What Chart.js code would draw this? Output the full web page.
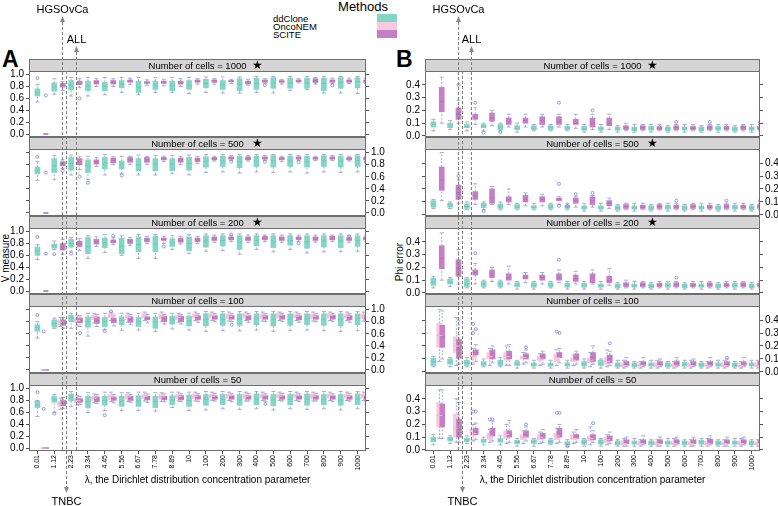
<!DOCTYPE html>
<html>
<head>
<meta charset="utf-8">
<script src="https://cdn.jsdelivr.net/npm/chart.js@4.4.1/dist/chart.umd.min.js"></script>
<style>
  html, body { margin:0; padding:0; background:#fff; }
  #root { position:relative; width:778px; height:506px; overflow:hidden; background:#fff;
          font-family:"Liberation Sans", Arial, Helvetica, sans-serif; color:#000; }
  #root canvas { position:absolute; }
  .t { position:absolute; white-space:nowrap; line-height:1; }
  .c { transform:translate(-50%,-50%); }
  .sw { position:absolute; }
</style>
</head>
<body>
<div id="root">
  <div class="t c" style="left:363px;top:6px;font-size:13px;">Methods</div>
  <div class="t" style="left:2px;top:48px;font-size:23px;font-weight:bold;">A</div>
  <div class="t" style="left:396px;top:48px;font-size:23px;font-weight:bold;">B</div>
  <div class="t" style="left:6px;top:258px;font-size:10px;transform:translate(-50%,-50%) rotate(-90deg);">V measure</div>
  <div class="t" style="left:400px;top:262px;font-size:10px;transform:translate(-50%,-50%) rotate(-90deg);">Phi error</div>
</div>
<script>
// ---------------- DATA ----------------
const lambdas = ['0.01','1.12','2.23','3.34','4.45','5.56','6.67','7.78','8.89','10',
                 '100','200','300','400','500','600','700','800','900','1000'];
const cellCounts = [1000, 500, 200, 100, 50];
const methodNames = ['ddClone', 'OncoNEM', 'SCITE'];
const yTicksA = [0, 0.2, 0.4, 0.6, 0.8, 1.0];
const yTicksB = [0, 0.1, 0.2, 0.3, 0.4];
// estimated positions (in category units) of the real-data lambda values
const annotations = [{name:'HGSOvCa', at:1.45}, {name:'TNBC', at:1.72}, {name:'ALL', at:2.27}];

// each entry: [lower whisker, Q1, median, Q3, upper whisker, (outliers)]
// ---- Panel A : V measure ----
const vm_ddClone_1000 = [
 [0.54,0.64,0.70,0.76,0.83,[0.94]],[0.67,0.72,0.79,0.86,0.93],[0.64,0.74,0.82,0.90,0.95],[0.64,0.73,0.80,0.89,0.95],
 [0.66,0.73,0.80,0.87,0.95],[0.70,0.78,0.84,0.90,0.95],[0.66,0.70,0.79,0.89,0.95],[0.70,0.75,0.82,0.89,0.95],
 [0.70,0.73,0.81,0.89,0.95],[0.68,0.75,0.82,0.90,0.95],[0.70,0.78,0.85,0.92,0.96],[0.69,0.75,0.83,0.90,0.96],
 [0.69,0.73,0.84,0.93,0.96],[0.70,0.75,0.85,0.94,0.97],[0.69,0.77,0.86,0.95,0.97],[0.73,0.77,0.86,0.94,0.97],
 [0.75,0.77,0.86,0.94,0.97],[0.69,0.73,0.85,0.94,0.97],[0.69,0.77,0.87,0.95,0.97],[0.68,0.78,0.88,0.95,0.97]];
const vm_SCITE_1000 = [
 [0,0,0,0,0,[0.65]],[0.73,0.79,0.82,0.85,0.88],[0.78,0.83,0.86,0.89,0.93,[0.60]],[0.80,0.84,0.87,0.90,0.93],
 [0.80,0.84,0.87,0.90,0.93],[0.83,0.87,0.89,0.91,0.94],[0.82,0.85,0.87,0.88,0.91],[0.81,0.85,0.87,0.89,0.92],
 [0.80,0.84,0.86,0.89,0.93],[0.84,0.87,0.89,0.91,0.93],[0.84,0.87,0.89,0.91,0.93],[0.85,0.88,0.89,0.90,0.92],
 [0.82,0.84,0.87,0.89,0.92],[0.85,0.87,0.89,0.91,0.93,[0.82]],[0.84,0.87,0.88,0.90,0.92],[0.86,0.88,0.89,0.91,0.93],
 [0.84,0.87,0.89,0.93,0.95,[0.88]],[0.85,0.87,0.89,0.91,0.94,[0.82]],[0.85,0.87,0.89,0.91,0.94],[0.85,0.87,0.89,0.91,0.94]];
const vm_ddClone_500 = [
 [0.54,0.65,0.70,0.76,0.85,[0.93]],[0.55,0.67,0.78,0.90,0.95],[0.63,0.71,0.82,0.92,0.96],[0.55,0.67,0.78,0.88,0.94,[0.50]],
 [0.63,0.73,0.83,0.92,0.97],[0.65,0.73,0.80,0.86,0.94,[0.62]],[0.63,0.70,0.80,0.90,0.96],[0.63,0.70,0.81,0.90,0.95],
 [0.65,0.70,0.81,0.90,0.95],[0.63,0.71,0.82,0.92,0.96],[0.67,0.76,0.85,0.93,0.97],[0.68,0.77,0.86,0.94,0.97],
 [0.66,0.75,0.85,0.94,0.97],[0.68,0.77,0.86,0.94,0.97],[0.67,0.76,0.86,0.95,0.97],[0.68,0.77,0.86,0.94,0.97],
 [0.66,0.76,0.85,0.94,0.97],[0.68,0.77,0.86,0.95,0.97],[0.67,0.76,0.86,0.94,0.97],[0.68,0.77,0.87,0.95,0.97]];
const vm_SCITE_500 = [
 [0,0,0,0,0,[0.67]],[0.74,0.78,0.82,0.85,0.88,[0.70]],[0.72,0.80,0.85,0.90,0.93,[0.60]],[0.77,0.81,0.85,0.88,0.92],
 [0.80,0.83,0.87,0.91,0.93],[0.80,0.84,0.88,0.92,0.94],[0.80,0.84,0.88,0.92,0.94],[0.85,0.88,0.90,0.92,0.94],
 [0.80,0.84,0.88,0.91,0.94],[0.82,0.85,0.88,0.91,0.94],[0.86,0.88,0.90,0.92,0.94],[0.87,0.89,0.91,0.93,0.95,[0.85]],
 [0.86,0.88,0.90,0.93,0.95],[0.87,0.89,0.91,0.93,0.95,[0.85]],[0.85,0.88,0.90,0.92,0.94],[0.87,0.89,0.91,0.93,0.95,[0.84]],
 [0.87,0.89,0.91,0.92,0.94],[0.87,0.89,0.91,0.93,0.95],[0.86,0.88,0.90,0.92,0.94],[0.86,0.88,0.90,0.92,0.94,[0.84]]];
const vm_ddClone_200 = [
 [0.53,0.60,0.68,0.74,0.78,[0.91]],[0.70,0.72,0.76,0.79,0.84,[0.62]],[0.66,0.74,0.80,0.87,0.90,[0.63]],[0.55,0.63,0.75,0.90,0.93],
 [0.65,0.73,0.81,0.89,0.95],[0.60,0.63,0.76,0.89,0.93],[0.55,0.66,0.78,0.91,0.95],[0.55,0.66,0.79,0.92,0.95],
 [0.70,0.75,0.82,0.88,0.93],[0.63,0.68,0.80,0.91,0.95],[0.67,0.74,0.84,0.93,0.96],[0.68,0.76,0.85,0.93,0.96],
 [0.62,0.70,0.82,0.93,0.96],[0.70,0.76,0.85,0.93,0.96],[0.66,0.73,0.84,0.93,0.96],[0.70,0.77,0.85,0.93,0.96],
 [0.64,0.72,0.83,0.93,0.96],[0.66,0.74,0.84,0.93,0.96],[0.66,0.73,0.84,0.93,0.96],[0.67,0.75,0.85,0.93,0.96]];
const vm_SCITE_200 = [
 [0,0,0,0,0,[0.63]],[0.62,0.69,0.75,0.80,0.87],[0.68,0.75,0.80,0.84,0.88],[0.75,0.79,0.83,0.87,0.91],
 [0.78,0.81,0.84,0.86,0.90,[0.93]],[0.77,0.80,0.84,0.87,0.90],[0.80,0.83,0.86,0.89,0.92],[0.80,0.85,0.87,0.89,0.92,[0.75]],
 [0.79,0.82,0.85,0.89,0.92],[0.80,0.83,0.86,0.89,0.92],[0.82,0.85,0.88,0.91,0.94],[0.83,0.86,0.89,0.91,0.94,[0.95]],
 [0.82,0.85,0.88,0.91,0.94],[0.83,0.86,0.89,0.92,0.94],[0.82,0.85,0.88,0.91,0.94],[0.83,0.86,0.89,0.91,0.94,[0.80]],
 [0.82,0.85,0.88,0.91,0.94],[0.83,0.86,0.89,0.92,0.94],[0.82,0.85,0.87,0.90,0.93,[0.92]],[0.83,0.86,0.89,0.91,0.94]];
const vm_ddClone_100 = [
 [0.53,0.64,0.70,0.75,0.80,[0.91]],[0.69,0.71,0.77,0.83,0.86],[0.69,0.80,0.86,0.91,0.94],[0.56,0.71,0.80,0.88,0.94],
 [0.67,0.72,0.80,0.87,0.94,[0.64]],[0.66,0.75,0.82,0.88,0.94],[0.66,0.72,0.80,0.87,0.94],[0.64,0.69,0.79,0.88,0.94],
 [0.68,0.76,0.83,0.89,0.94],[0.66,0.73,0.81,0.89,0.94],[0.64,0.73,0.84,0.93,0.97],[0.65,0.74,0.84,0.93,0.97],
 [0.65,0.74,0.84,0.93,0.97],[0.66,0.75,0.85,0.93,0.97],[0.64,0.73,0.84,0.93,0.97],[0.65,0.74,0.84,0.93,0.97],
 [0.66,0.75,0.85,0.93,0.97],[0.65,0.74,0.84,0.93,0.97],[0.64,0.73,0.84,0.93,0.97],[0.65,0.75,0.85,0.93,0.97]];
const vm_OncoNEM_100 = [
 [0,0,0,0,0,[0.64]],[0.72,0.75,0.79,0.83,0.87],[0.73,0.78,0.82,0.86,0.90],[0.78,0.83,0.87,0.90,0.94],
 [0.82,0.86,0.90,0.94,0.96,[0.97]],[0.79,0.83,0.87,0.91,0.94],[0.82,0.86,0.90,0.94,0.96],[0.80,0.85,0.89,0.93,0.96],
 [0.79,0.83,0.87,0.91,0.94],[0.82,0.86,0.89,0.93,0.96],[0.82,0.86,0.90,0.94,0.96],[0.81,0.85,0.89,0.93,0.96],
 [0.82,0.86,0.90,0.94,0.96],[0.81,0.85,0.89,0.93,0.96],[0.82,0.86,0.90,0.94,0.96],[0.82,0.86,0.89,0.93,0.96],
 [0.81,0.85,0.89,0.93,0.96],[0.82,0.86,0.90,0.94,0.96],[0.82,0.86,0.89,0.93,0.96],[0.81,0.85,0.89,0.93,0.96]];
const vm_SCITE_100 = [
 [0,0,0,0,0],[0.69,0.74,0.78,0.83,0.87],[0.72,0.78,0.82,0.86,0.90,[0.61]],[0.72,0.77,0.82,0.88,0.92],
 [0.73,0.78,0.82,0.86,0.90],[0.75,0.79,0.84,0.88,0.92],[0.78,0.83,0.86,0.88,0.92],[0.76,0.80,0.85,0.89,0.92],
 [0.76,0.80,0.85,0.89,0.92],[0.79,0.83,0.87,0.90,0.93],[0.80,0.84,0.87,0.90,0.93],[0.80,0.84,0.87,0.90,0.93,[0.75]],
 [0.79,0.83,0.87,0.90,0.93],[0.80,0.84,0.87,0.90,0.93],[0.80,0.84,0.88,0.91,0.94],[0.79,0.83,0.87,0.90,0.93],
 [0.80,0.84,0.87,0.90,0.93],[0.80,0.84,0.88,0.91,0.94],[0.79,0.83,0.87,0.90,0.93],[0.80,0.84,0.87,0.90,0.93]];
const vm_ddClone_50 = [
 [0.53,0.68,0.72,0.79,0.80,[0.94]],[0.60,0.77,0.82,0.87,0.90,[0.58]],[0.70,0.79,0.85,0.91,0.95],[0.60,0.68,0.78,0.87,0.93],
 [0.63,0.72,0.80,0.87,0.94,[0.55]],[0.63,0.70,0.79,0.87,0.93],[0.63,0.70,0.79,0.88,0.94],[0.62,0.68,0.78,0.87,0.93],
 [0.68,0.73,0.81,0.88,0.94],[0.63,0.70,0.80,0.89,0.94],[0.64,0.72,0.82,0.90,0.95],[0.66,0.73,0.82,0.90,0.95],
 [0.65,0.72,0.81,0.90,0.95],[0.66,0.73,0.82,0.91,0.95],[0.64,0.71,0.81,0.90,0.95],[0.66,0.73,0.82,0.90,0.95],
 [0.65,0.72,0.82,0.91,0.95],[0.66,0.73,0.82,0.90,0.95],[0.64,0.72,0.81,0.90,0.95],[0.66,0.73,0.82,0.91,0.95]];
const vm_OncoNEM_50 = [
 [0,0,0,0,0,[0.66]],[0.65,0.70,0.74,0.79,0.84],[0.72,0.76,0.80,0.84,0.88],[0.76,0.80,0.84,0.87,0.91],
 [0.78,0.82,0.86,0.90,0.94],[0.78,0.82,0.86,0.90,0.93],[0.79,0.83,0.87,0.90,0.94],[0.78,0.82,0.86,0.90,0.93],
 [0.79,0.83,0.87,0.90,0.94],[0.79,0.83,0.87,0.91,0.94],[0.80,0.84,0.87,0.91,0.94],[0.80,0.84,0.88,0.91,0.94],
 [0.79,0.83,0.87,0.91,0.94],[0.80,0.84,0.88,0.91,0.94],[0.80,0.84,0.87,0.91,0.94],[0.80,0.84,0.88,0.91,0.94],
 [0.79,0.83,0.87,0.91,0.94],[0.80,0.84,0.88,0.91,0.94],[0.80,0.84,0.87,0.91,0.94],[0.80,0.84,0.88,0.91,0.94]];
const vm_SCITE_50 = [
 [0,0,0,0,0],[0.66,0.71,0.75,0.80,0.85],[0.73,0.77,0.80,0.83,0.87],[0.75,0.78,0.82,0.86,0.90],
 [0.76,0.80,0.83,0.86,0.90],[0.77,0.80,0.83,0.87,0.90],[0.77,0.81,0.84,0.87,0.91],[0.78,0.81,0.84,0.87,0.91],
 [0.78,0.81,0.84,0.88,0.91],[0.78,0.82,0.85,0.88,0.91],[0.79,0.82,0.85,0.88,0.92],[0.78,0.82,0.85,0.88,0.91],
 [0.79,0.82,0.85,0.88,0.92],[0.78,0.82,0.85,0.88,0.91,[0.74]],[0.79,0.82,0.85,0.88,0.92],[0.78,0.82,0.85,0.88,0.91],
 [0.79,0.82,0.85,0.88,0.92],[0.78,0.82,0.85,0.88,0.91],[0.79,0.82,0.85,0.88,0.92],[0.78,0.82,0.85,0.88,0.91,[0.74]]];

// ---- Panel B : Phi error ----
const phi_ddClone_1000 = [
 [0.04,0.07,0.09,0.11,0.13],[0.05,0.065,0.08,0.10,0.12],[0.04,0.065,0.075,0.09,0.11],[0.04,0.065,0.075,0.09,0.10,[0.026]],
 [0.04,0.05,0.07,0.09,0.10,[0.03]],[0.03,0.05,0.06,0.08,0.10],[0.04,0.05,0.06,0.08,0.09],[0.04,0.05,0.065,0.08,0.09],
 [0.04,0.05,0.06,0.075,0.09],[0.03,0.045,0.055,0.075,0.09],[0.03,0.045,0.055,0.07,0.09],[0.03,0.045,0.055,0.07,0.08],
 [0.03,0.04,0.055,0.07,0.09],[0.03,0.045,0.06,0.075,0.09],[0.03,0.04,0.055,0.07,0.08],[0.03,0.045,0.055,0.07,0.09],
 [0.03,0.04,0.055,0.07,0.08],[0.03,0.045,0.06,0.075,0.09],[0.03,0.04,0.055,0.07,0.08],[0.03,0.045,0.055,0.07,0.09]];
const phi_SCITE_1000 = [
 [0.10,0.19,0.27,0.38,0.46],[0.10,0.13,0.17,0.22,0.28,[0.40]],[0.09,0.13,0.15,0.17,0.22,[0.26]],[0.08,0.115,0.14,0.18,0.20],
 [0.07,0.09,0.11,0.14,0.17],[0.07,0.10,0.12,0.14,0.17],[0.07,0.09,0.12,0.15,0.17],[0.07,0.09,0.11,0.15,0.17,[0.26]],
 [0.06,0.09,0.10,0.13,0.17],[0.05,0.07,0.10,0.14,0.17,[0.20]],[0.05,0.08,0.10,0.14,0.17],[0.04,0.05,0.065,0.08,0.10],
 [0.04,0.05,0.065,0.08,0.09],[0.04,0.05,0.06,0.075,0.09],[0.04,0.05,0.065,0.08,0.09,[0.11]],[0.04,0.05,0.06,0.075,0.09],
 [0.04,0.05,0.065,0.08,0.09,[0.11]],[0.04,0.05,0.06,0.075,0.09],[0.04,0.05,0.065,0.08,0.09],[0.04,0.05,0.06,0.075,0.09,[0.11]]];
const phi_ddClone_500 = [
 [0.05,0.06,0.085,0.11,0.12],[0.05,0.06,0.075,0.09,0.10],[0.04,0.05,0.065,0.085,0.10],[0.04,0.055,0.07,0.09,0.10,[0.03]],
 [0.04,0.05,0.065,0.085,0.10],[0.04,0.05,0.06,0.08,0.09],[0.04,0.05,0.06,0.07,0.09],[0.04,0.05,0.06,0.08,0.09],
 [0.04,0.05,0.06,0.075,0.09,[0.07]],[0.03,0.045,0.055,0.07,0.09],[0.03,0.045,0.055,0.07,0.09],[0.03,0.04,0.055,0.07,0.08],
 [0.03,0.045,0.055,0.07,0.09],[0.03,0.04,0.055,0.07,0.08],[0.03,0.045,0.06,0.075,0.09],[0.03,0.04,0.055,0.07,0.08],
 [0.03,0.045,0.055,0.07,0.09],[0.03,0.04,0.055,0.07,0.08],[0.03,0.045,0.06,0.075,0.09],[0.03,0.04,0.055,0.07,0.08]];
const phi_SCITE_500 = [
 [0.11,0.19,0.27,0.37,0.48],[0.09,0.12,0.17,0.23,0.27,[0.30]],[0.08,0.12,0.15,0.18,0.24],[0.08,0.09,0.13,0.20,0.22],
 [0.08,0.10,0.12,0.14,0.20],[0.07,0.10,0.12,0.15,0.17],[0.07,0.10,0.12,0.14,0.16],[0.08,0.11,0.12,0.13,0.14,[0.24,0.07]],
 [0.06,0.09,0.11,0.13,0.14,[0.16]],[0.06,0.08,0.11,0.14,0.15,[0.17]],[0.05,0.07,0.09,0.11,0.13],[0.04,0.05,0.065,0.08,0.09],
 [0.04,0.05,0.06,0.075,0.09],[0.04,0.05,0.065,0.08,0.09],[0.04,0.05,0.06,0.075,0.09,[0.11]],[0.04,0.05,0.065,0.08,0.09],
 [0.04,0.05,0.06,0.075,0.09],[0.04,0.05,0.065,0.08,0.09,[0.11]],[0.04,0.05,0.06,0.075,0.09],[0.04,0.05,0.065,0.08,0.09,[0.11]]];
const phi_ddClone_200 = [
 [0.04,0.06,0.085,0.115,0.13],[0.05,0.07,0.085,0.11,0.12],[0.04,0.05,0.07,0.11,0.12],[0.04,0.05,0.07,0.09,0.10],
 [0.04,0.05,0.07,0.09,0.10],[0.03,0.05,0.06,0.08,0.09],[0.03,0.045,0.06,0.08,0.09],[0.04,0.05,0.065,0.08,0.09],
 [0.03,0.045,0.06,0.075,0.09],[0.03,0.045,0.055,0.075,0.09],[0.03,0.045,0.055,0.07,0.09],[0.03,0.04,0.055,0.07,0.08],
 [0.03,0.045,0.055,0.07,0.09],[0.03,0.04,0.055,0.07,0.08],[0.03,0.045,0.06,0.075,0.09],[0.03,0.04,0.055,0.07,0.08],
 [0.03,0.045,0.055,0.07,0.09],[0.03,0.04,0.055,0.07,0.08],[0.03,0.045,0.06,0.075,0.09],[0.03,0.04,0.055,0.07,0.08]];
const phi_SCITE_200 = [
 [0.10,0.19,0.27,0.37,0.47],[0.07,0.13,0.19,0.26,0.34],[0.07,0.14,0.16,0.18,0.23,[0.31]],[0.09,0.12,0.15,0.18,0.20],
 [0.07,0.10,0.12,0.15,0.21],[0.08,0.11,0.12,0.14,0.16],[0.07,0.10,0.12,0.14,0.16],[0.08,0.10,0.12,0.15,0.18,[0.26]],
 [0.07,0.09,0.11,0.14,0.17],[0.07,0.08,0.12,0.15,0.18],[0.06,0.08,0.10,0.13,0.19],[0.04,0.05,0.065,0.08,0.10],
 [0.04,0.05,0.065,0.08,0.09],[0.04,0.05,0.06,0.075,0.09],[0.04,0.05,0.065,0.08,0.09,[0.12]],[0.04,0.05,0.06,0.075,0.09],
 [0.04,0.05,0.065,0.08,0.09],[0.04,0.05,0.06,0.075,0.09],[0.04,0.05,0.065,0.08,0.09],[0.04,0.05,0.06,0.075,0.09]];
const phi_ddClone_100 = [
 [0.04,0.05,0.08,0.105,0.12],[0.04,0.06,0.075,0.10,0.11],[0.04,0.05,0.07,0.09,0.11],[0.04,0.05,0.065,0.08,0.10],
 [0.04,0.05,0.07,0.09,0.11],[0.03,0.05,0.06,0.08,0.09],[0.03,0.045,0.055,0.07,0.09],[0.03,0.045,0.055,0.07,0.09],
 [0.03,0.045,0.055,0.07,0.09],[0.03,0.045,0.06,0.08,0.10],[0.03,0.05,0.06,0.09,0.10],[0.03,0.04,0.055,0.07,0.09],
 [0.03,0.04,0.055,0.07,0.08],[0.03,0.045,0.055,0.07,0.09],[0.03,0.04,0.055,0.07,0.08],[0.03,0.045,0.055,0.075,0.09],
 [0.03,0.04,0.055,0.07,0.08],[0.03,0.045,0.055,0.07,0.09],[0.03,0.04,0.055,0.07,0.08],[0.03,0.045,0.055,0.07,0.09]];
const phi_OncoNEM_100 = [
 [0.08,0.19,0.28,0.375,0.48],[0.05,0.15,0.20,0.27,0.42],[0.06,0.10,0.12,0.15,0.18,[0.37,0.30]],[0.05,0.10,0.12,0.15,0.18],
 [0.05,0.09,0.12,0.15,0.20],[0.06,0.10,0.11,0.12,0.15],[0.05,0.09,0.10,0.12,0.14],[0.05,0.08,0.11,0.14,0.17,[0.31]],
 [0.05,0.08,0.09,0.11,0.13],[0.04,0.07,0.09,0.11,0.15],[0.04,0.06,0.08,0.11,0.17],[0.03,0.04,0.05,0.07,0.09],
 [0.03,0.04,0.05,0.07,0.08],[0.03,0.04,0.05,0.07,0.09],[0.03,0.04,0.05,0.065,0.08],[0.03,0.04,0.05,0.07,0.09],
 [0.03,0.04,0.05,0.065,0.08],[0.03,0.04,0.05,0.07,0.09],[0.03,0.04,0.05,0.065,0.08],[0.03,0.04,0.05,0.07,0.09]];
const phi_SCITE_100 = [
 [0.10,0.19,0.27,0.36,0.47],[0.06,0.105,0.17,0.25,0.40],[0.08,0.13,0.15,0.17,0.21,[0.33]],[0.07,0.10,0.14,0.17,0.20],
 [0.05,0.10,0.13,0.16,0.21],[0.07,0.10,0.12,0.14,0.17,[0.19]],[0.06,0.10,0.12,0.14,0.16],[0.07,0.11,0.13,0.15,0.18,[0.30]],
 [0.06,0.09,0.11,0.14,0.16],[0.06,0.08,0.11,0.15,0.20],[0.05,0.07,0.10,0.13,0.16,[0.22]],[0.04,0.05,0.06,0.08,0.11],
 [0.04,0.05,0.065,0.08,0.11],[0.04,0.05,0.06,0.08,0.10],[0.04,0.05,0.065,0.085,0.11],[0.04,0.05,0.06,0.08,0.10],
 [0.04,0.05,0.065,0.08,0.11],[0.04,0.05,0.06,0.08,0.10,[0.11]],[0.04,0.05,0.065,0.08,0.11],[0.04,0.05,0.06,0.08,0.10]];
const phi_ddClone_50 = [
 [0.04,0.065,0.08,0.10,0.12],[0.05,0.07,0.085,0.10,0.11],[0.05,0.065,0.08,0.09,0.11],[0.04,0.06,0.07,0.085,0.10],
 [0.04,0.06,0.075,0.09,0.11],[0.03,0.05,0.06,0.075,0.09],[0.03,0.05,0.065,0.08,0.09],[0.04,0.05,0.065,0.08,0.09],
 [0.03,0.04,0.05,0.065,0.08,[0.03]],[0.03,0.045,0.06,0.08,0.09],[0.03,0.045,0.06,0.08,0.09],[0.03,0.04,0.055,0.07,0.08],
 [0.03,0.045,0.055,0.07,0.09],[0.03,0.04,0.055,0.07,0.08],[0.03,0.045,0.055,0.07,0.09],[0.03,0.04,0.055,0.07,0.08],
 [0.03,0.045,0.06,0.075,0.09],[0.03,0.04,0.055,0.07,0.08],[0.03,0.045,0.055,0.07,0.09],[0.03,0.04,0.055,0.07,0.08]];
const phi_OncoNEM_50 = [
 [0.09,0.18,0.27,0.37,0.47],[0.06,0.10,0.17,0.28,0.40],[0.07,0.11,0.13,0.16,0.20,[0.30]],[0.06,0.08,0.11,0.13,0.16,[0.24]],
 [0.05,0.09,0.12,0.15,0.20],[0.05,0.08,0.10,0.12,0.15],[0.05,0.08,0.10,0.12,0.14],[0.05,0.08,0.11,0.13,0.17,[0.29]],
 [0.05,0.08,0.09,0.12,0.14],[0.04,0.07,0.09,0.11,0.18],[0.04,0.06,0.08,0.10,0.12],[0.03,0.04,0.05,0.07,0.09],
 [0.03,0.04,0.05,0.07,0.08],[0.03,0.04,0.05,0.065,0.08],[0.03,0.04,0.05,0.07,0.09],[0.03,0.04,0.05,0.065,0.08],
 [0.03,0.04,0.05,0.07,0.09],[0.03,0.04,0.05,0.065,0.08],[0.03,0.04,0.05,0.07,0.09],[0.03,0.04,0.05,0.065,0.08]];
const phi_SCITE_50 = [
 [0.09,0.18,0.27,0.36,0.47],[0.06,0.10,0.16,0.24,0.37],[0.08,0.12,0.14,0.17,0.21,[0.30]],[0.07,0.11,0.14,0.17,0.22,[0.24]],
 [0.06,0.10,0.12,0.15,0.23],[0.07,0.10,0.12,0.15,0.18,[0.20]],[0.06,0.09,0.11,0.13,0.16],[0.06,0.10,0.13,0.17,0.20,[0.29]],
 [0.06,0.09,0.11,0.12,0.16],[0.06,0.08,0.11,0.12,0.15,[0.21]],[0.05,0.07,0.09,0.11,0.14],[0.03,0.05,0.06,0.08,0.10],
 [0.04,0.05,0.065,0.08,0.11],[0.03,0.05,0.06,0.08,0.10],[0.04,0.05,0.065,0.08,0.10],[0.03,0.05,0.06,0.08,0.10],
 [0.04,0.05,0.065,0.085,0.11],[0.03,0.05,0.06,0.08,0.10],[0.04,0.05,0.065,0.08,0.10],[0.03,0.05,0.06,0.08,0.10,[0.12]]];

// ---------------- STYLE / LAYOUT ----------------
const FONT = '"Liberation Sans", Arial, Helvetica, sans-serif';
const METHOD_COLORS = { ddClone:'#83d5c6', OncoNEM:'#f8c9de', SCITE:'#c57fc5' };
const MEDIAN_COLORS = { ddClone:'#74c9b9', OncoNEM:'#f0b9d2', SCITE:'#b873b8' };
const BOX_WIDTH = { ddClone:5, OncoNEM:6, SCITE:5 };
const WHISKER_COLOR = '#a3abd6';
const OUTLIER_COLOR = '#7d87cc';
const stripTops = [59, 137, 216, 294, 373];
const plotBottoms = [137, 216, 294, 373, 451];
const STRIP = 12, PAD = 10, AXIS_BOTTOM = 486;
const X_TITLE = 'λ, the Dirichlet distribution concentration parameter';
const annotationStyle = {
  HGSOvCa: { dir:'up', tip:16, textY:9 },
  ALL:     { dir:'up', tip:46, textY:38.5 },
  TNBC:    { dir:'down', tip:493, textY:501 }
};

const panels = [
  { canvasLeft:0, canvasWidth:400, axisL:29, axisR:34, yMin:-0.05, yMax:1.06, yTicks:yTicksA,
    facets:[ {ddClone:vm_ddClone_1000, SCITE:vm_SCITE_1000},
             {ddClone:vm_ddClone_500,  SCITE:vm_SCITE_500},
             {ddClone:vm_ddClone_200,  SCITE:vm_SCITE_200},
             {ddClone:vm_ddClone_100,  OncoNEM:vm_OncoNEM_100, SCITE:vm_SCITE_100},
             {ddClone:vm_ddClone_50,   OncoNEM:vm_OncoNEM_50,  SCITE:vm_SCITE_50} ] },
  { canvasLeft:390, canvasWidth:388, axisL:35, axisR:18, yMin:-0.008, yMax:0.508, yTicks:yTicksB,
    facets:[ {ddClone:phi_ddClone_1000, SCITE:phi_SCITE_1000},
             {ddClone:phi_ddClone_500,  SCITE:phi_SCITE_500},
             {ddClone:phi_ddClone_200,  SCITE:phi_SCITE_200},
             {ddClone:phi_ddClone_100,  OncoNEM:phi_OncoNEM_100, SCITE:phi_SCITE_100},
             {ddClone:phi_ddClone_50,   OncoNEM:phi_OncoNEM_50,  SCITE:phi_SCITE_50} ] }
];

const root = document.getElementById('root');

// legend
methodNames.forEach((m, i) => {
  const t = document.createElement('div');
  t.className = 't'; t.style.left = '273px'; t.style.top = (13.5 + 8 * i) + 'px';
  t.style.fontSize = '9.5px'; t.textContent = m; root.appendChild(t);
  const s = document.createElement('div');
  s.className = 'sw'; s.style.left = '377px'; s.style.top = (14 + 8 * i) + 'px';
  s.style.width = '20px'; s.style.height = '8px'; s.style.background = METHOD_COLORS[m];
  root.appendChild(s);
});

const facetPlugin = {
  id: 'facetFrame',
  afterDraw(chart) {
    const o = chart.options.plugins.facetFrame;
    const a = chart.chartArea, ctx = chart.ctx;
    ctx.save();
    const L = Math.round(a.left) + 0.5, R = Math.round(a.right) - 0.5;
    const T = Math.round(a.top) + 0.5, B = Math.round(a.bottom) - 0.5;
    const sT = Math.round(a.top - STRIP) + 0.5;
    ctx.fillStyle = '#d5d5d5';
    ctx.fillRect(L, sT, R - L, T - sT);
    ctx.strokeStyle = '#6e6e6e'; ctx.lineWidth = 1;
    ctx.strokeRect(L, sT, R - L, T - sT);
    ctx.strokeRect(L, T, R - L, B - T);
    ctx.fillStyle = '#000'; ctx.textAlign = 'center'; ctx.textBaseline = 'middle';
    ctx.font = '9.5px ' + FONT;
    const cx = (a.left + a.right) / 2, cy = (sT + T) / 2 + 0.5;
    ctx.fillText(o.label, cx, cy);
    if (o.star) { ctx.font = '12px "DejaVu Sans"'; ctx.fillText('\u2605', cx + 60, cy); }
    ctx.restore();
  }
};

function methodAxisId(m) { return 'x_' + m; }

function buildDatasets(series) {
  const present = methodNames.filter(m => series[m]);
  const ds = [];
  const boxOrder = { ddClone:7, OncoNEM:6, SCITE:5 };
  present.forEach(m => {
    const arr = series[m], xid = methodAxisId(m);
    // dashed whiskers: lower (lo..Q1) and upper (Q3..hi), separated by gaps
    ds.push({ type:'scatter', xAxisID:xid, showLine:true, spanGaps:false, pointRadius:0,
      borderColor:WHISKER_COLOR, borderWidth:1, borderDash:[2, 1.5],
      data:arr.flatMap((t, i) => [{ x:i, y:t[0] }, { x:i, y:t[1] }, { x:i, y:null },
                                  { x:i, y:t[3] }, { x:i, y:t[4] }, { x:i, y:null }]), order:10 });
    ds.push({ type:'bar', label:m, xAxisID:xid, data:arr.map((t, i) => ({ x:i, y:[t[1], t[3]] })),
      backgroundColor:METHOD_COLORS[m], barThickness:BOX_WIDTH[m], maxBarThickness:BOX_WIDTH[m], grouped:false, borderWidth:0, order:boxOrder[m] });
    ds.push({ type:'scatter', xAxisID:xid, data:arr.flatMap((t, i) => [{ x:i, y:t[0] }, { x:i, y:t[4] }]),
      pointStyle:'line', radius:2, borderColor:WHISKER_COLOR, borderWidth:1, order:3 });
    ds.push({ type:'scatter', xAxisID:xid, data:arr.map((t, i) => ({ x:i, y:t[2] })),
      pointStyle:'line', radius:BOX_WIDTH[m] / 2, borderColor:MEDIAN_COLORS[m], borderWidth:1, order:2 });
    ds.push({ type:'scatter', xAxisID:xid, data:arr.flatMap((t, i) => (t[5] || []).map(v => ({ x:i, y:v }))),
      pointStyle:'circle', radius:1.5, borderColor:OUTLIER_COLOR, backgroundColor:'rgba(0,0,0,0)', borderWidth:0.8, order:1 });
  });
  return { ds, present };
}

const allCharts = [];
panels.forEach(panel => {
  const charts = [];
  panel.facets.forEach((series, k) => {
    const isBottom = k === cellCounts.length - 1;
    const labelsLeft = k % 2 === 0;
    const top = stripTops[k] - PAD;
    const height = isBottom ? AXIS_BOTTOM - top : plotBottoms[k] + PAD - top;
    const cv = document.createElement('canvas');
    cv.width = panel.canvasWidth; cv.height = height;
    cv.style.left = panel.canvasLeft + 'px'; cv.style.top = top + 'px';
    cv.style.width = panel.canvasWidth + 'px'; cv.style.height = height + 'px';
    root.appendChild(cv);

    const { ds, present } = buildDatasets(series);
    const offsets = present.length === 2 ? { ddClone:0, SCITE:0.5 } : { ddClone:0, OncoNEM:0.37, SCITE:0.53 };

    const yBase = {
      type:'linear', min:panel.yMin, max:panel.yMax,
      afterBuildTicks: s => { s.ticks = panel.yTicks.map(v => ({ value:v })); },
      grid:{ display:true, drawOnChartArea:false, drawTicks:true, tickLength:3, color:'#555', lineWidth:1 },
      border:{ display:false }
    };
    const tickFont = { family:FONT, size:10 };
    const scales = {
      y: Object.assign({}, yBase, { position:'left', afterFit: s => { s.width = panel.axisL; },
        ticks:{ display:labelsLeft, autoSkip:false, color:'#000', font:tickFont, padding:2, callback:v => v.toFixed(1) } }),
      y2: Object.assign({}, yBase, { axis:'y', position:'right', afterFit: s => { s.width = panel.axisR; },
        ticks:{ display:!labelsLeft, autoSkip:false, color:'#000', font:tickFont, padding:2, callback:v => v.toFixed(1) } }),
      x: {
        type:'linear', position:'bottom', min:-0.5, max:19.5, offset:false, display:isBottom,
        afterBuildTicks: s => { s.ticks = lambdas.map((_, i) => ({ value:i })); },
        ticks:{ autoSkip:false, minRotation:90, maxRotation:90, color:'#000', font:{ family:FONT, size:7 }, padding:1,
                callback:v => lambdas[v] },
        grid:{ display:true, drawOnChartArea:false, tickLength:3, color:'#555', offset:false },
        border:{ display:false },
        title:{ display:true, text:X_TITLE, color:'#000', font:{ family:FONT, size:10 }, padding:{ top:0, bottom:0 } }
      }
    };
    if (isBottom) scales.x.afterFit = s => { s.height = AXIS_BOTTOM - plotBottoms[k]; };
    present.forEach(m => {
      scales[methodAxisId(m)] = { type:'linear', axis:'x', position:'bottom', display:false, offset:false,
        grid:{ offset:false }, min:-0.5 - offsets[m], max:19.5 - offsets[m] };
    });

    const chart = new Chart(cv, {
      type:'bar',
      data:{ datasets:ds },
      options:{
        responsive:false, animation:false, devicePixelRatio:1,
        layout:{ padding:{ top:PAD + STRIP, bottom:isBottom ? 0 : PAD, left:0, right:0 } },
        plugins:{ legend:{ display:false }, tooltip:{ enabled:false },
                  facetFrame:{ label:'Number of cells = ' + cellCounts[k], star:cellCounts[k] >= 200 } },
        scales
      },
      plugins:[facetPlugin]
    });
    charts.push(chart);
  });
  allCharts.push(charts);
});

// annotation lines (HGSOvCa / TNBC / ALL) placed with the charts' own x scales
const ov = document.createElement('canvas');
ov.width = 778; ov.height = 506; ov.style.left = '0px'; ov.style.top = '0px';
root.appendChild(ov);
const g = ov.getContext('2d');
allCharts.forEach(charts => {
  const topC = charts[0], botC = charts[charts.length - 1];
  const offX = parseFloat(topC.canvas.style.left);
  const plotTop = parseFloat(topC.canvas.style.top) + topC.chartArea.top;
  const plotBot = parseFloat(botC.canvas.style.top) + botC.chartArea.bottom;
  annotations.forEach(a => {
    const st = annotationStyle[a.name];
    const x = Math.round(offX + topC.scales.x.getPixelForValue(a.at)) + 0.5;
    let y0, y1;
    if (st.dir === 'up') { y0 = st.tip + 6; y1 = plotBot; } else { y0 = plotTop; y1 = st.tip - 6; }
    g.save();
    g.strokeStyle = '#7d7d7d'; g.lineWidth = 1; g.setLineDash([3, 2]);
    g.beginPath(); g.moveTo(x, y0); g.lineTo(x, y1); g.stroke();
    g.restore();
    g.fillStyle = '#8a8a8a'; g.beginPath();
    if (st.dir === 'up') { g.moveTo(x, st.tip); g.lineTo(x - 2.5, st.tip + 6); g.lineTo(x + 2.5, st.tip + 6); }
    else { g.moveTo(x, st.tip); g.lineTo(x - 2.5, st.tip - 6); g.lineTo(x + 2.5, st.tip - 6); }
    g.closePath(); g.fill();
    const d = document.createElement('div');
    d.className = 't c'; d.style.left = x + 'px'; d.style.top = st.textY + 'px';
    d.style.fontSize = '11px'; d.textContent = a.name;
    root.appendChild(d);
  });
});
</script>
</body>
</html>
